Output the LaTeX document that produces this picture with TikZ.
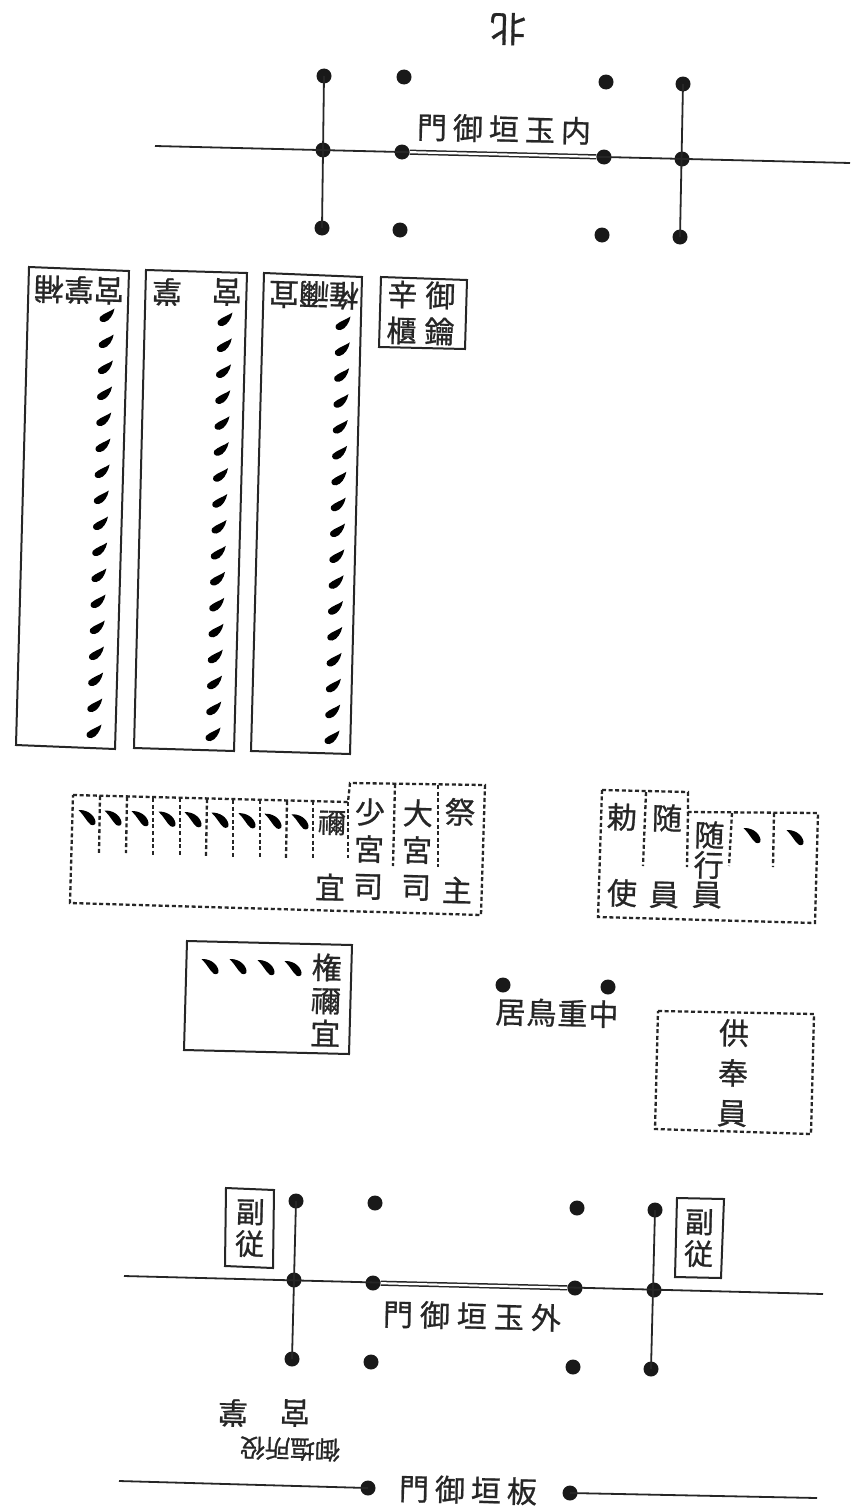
\documentclass[tikz,border=0pt]{standalone}
\usepackage{fontspec}
\newfontfamily\cjk[FakeBold=0.8]{Noto Sans CJK JP}
\tikzset{
  px/.style={x=1pt,y=-1pt},
  post/.style={circle,fill=black!90,inner sep=0pt,minimum size=15pt},
  rule/.style={draw=black!85,line width=1.8pt},
  gatepair/.style={draw=black!85,line width=1.5pt,double=white,double distance=2.2pt},
  framebox/.style={draw=black!85,line width=2pt,line join=miter},
  dashbox/.style={draw=black!85,line width=2.3pt,dash pattern=on 4pt off 2.6pt},
  lab/.style={inner sep=0pt,align=center,rotate=-1.4,font=\cjk\fontsize{30}{37}\selectfont,text=black!85},
  labflip/.style={inner sep=0pt,rotate=178.6,font=\cjk\fontsize{30}{30}\selectfont,text=black!85},
  tickA/.pic={\fill[black] (7.5,-7.5) .. controls (3.5,-4.5) and (-3,-3) .. (-7,1) .. controls (-8.5,4.5) and (-6,6.5) .. (-2.5,6) .. controls (2.5,5) and (6.5,-1.5) .. (7.5,-7.5);},
  tickB/.pic={\fill[black] (-8.5,-7) .. controls (-1,-7.5) and (7,-3) .. (8.5,4.5) .. controls (9,8) and (6,9) .. (3.5,7.5) .. controls (0,5) and (-3,-2) .. (-8.5,-7);}
}
\begin{document}
\begin{tikzpicture}[px]
\useasboundingbox[fill=white] (0,0) rectangle (854,1512);

% north mark
\node[labflip,font=\cjk\fontsize{36}{36}\selectfont] (north) at (508,29) {北};

% inner gate
\foreach \n/\x/\y in {ia/324/76,ib/404/77,ic/606/82,id/683/84,ie/323/150,if/402/152,ig/604/157,ih/682/159,ii/322/228,ij/400/230,ik/602/235,il/680/237}
  \node[post] (\n) at (\x,\y) {};
\coordinate (il0) at (155,146);
\coordinate (il1) at (850,163);
\draw[rule] (il0) -- (il1);
\draw[rule] (ia.center) -- (ii.center);
\draw[rule] (id.center) -- (il.center);
\draw[gatepair] (if) -- (ig);
\node[lab] (innergate) at (504,129) {門\hspace{6pt}御\hspace{6pt}垣\hspace{6pt}玉\hspace{6pt}内};

% long boxes
\draw[framebox] (29,267) -- (129,271) -- (115,749) -- (16,745) -- cycle;
\draw[framebox] (146,270) -- (247,273) -- (234,751) -- (134,748) -- cycle;
\draw[framebox] (264,273) -- (362,277) -- (350,754) -- (251,751) -- cycle;
\draw[framebox] (381,277) -- (467,280) -- (465,349) -- (379,347) -- cycle;
\node[labflip] (t1) at (79,290) {宮掌補};
\node[labflip] (t2a) at (227,292) {宮};
\node[labflip] (t2b) at (167,292) {掌};
\node[labflip] (t3) at (314,295) {権禰宜};
\node[lab,font=\cjk\fontsize{30}{36}\selectfont] (t4) at (421,313) {辛\hspace{8pt}御\\櫃\hspace{8pt}鑰};
\foreach \i in {0,...,16} {
  \pic at ({107-13*\i/16},{316+416*\i/16}) {tickA};
  \pic at ({225-12*\i/16},{320+415*\i/16}) {tickA};
  \pic at ({343-11*\i/16},{324+414*\i/16}) {tickA};
}

% dashed group left
\draw[dashbox] (73,795) -- (348,802) -- (350,783) -- (485,785) -- (481,915) -- (70,903) -- cycle;
\foreach \xa/\ya/\xb/\yb in {100/796/99/853,127/797/126/853,153/798/153/855,180/798/180/856,207/799/206/856,233/800/233/857,260/800/260/857,287/801/286/858,313/801/313/858,348/802/348/858,395/784/393/866,438/785/438/867}
  \draw[dashbox] (\xa,\ya) -- (\xb,\yb);
\foreach \x in {87,113,140,167,193,220,247,273,300}
  \pic at (\x,{817+(\x-87)*0.02}) {tickB};
\node[lab,font=\cjk\fontsize{28}{28}\selectfont] (ne) at (332,823) {禰};
\node[lab] (gi) at (330,887) {宜};
\node[lab] (sh) at (369,849) {少\\宮\\司};
\node[lab] (dai) at (417,850) {大\\宮\\司};
\node[lab] (sa) at (460,812) {祭};
\node[lab] (nu) at (457,890) {主};

% dashed group right
\draw[dashbox] (602,790) -- (688,792) -- (688,812) -- (818,813) -- (815,923) -- (598,917) -- cycle;
\foreach \xa/\ya/\xb/\yb in {646/792/643/866,688/812/687/867,732/813/729/866,774/813/773/867}
  \draw[dashbox] (\xa,\ya) -- (\xb,\yb);
\pic at (752,835) {tickB};
\pic at (795,837) {tickB};
\node[lab] (cho) at (622,817) {勅};
\node[lab] (zu) at (667,818) {随};
\node[lab,font=\cjk\fontsize{30}{30}\selectfont] (zg) at (709,850) {随\\行};
\node[lab] (shi) at (622,893) {使};
\node[lab] (in1) at (664,895) {員};
\node[lab] (in2) at (707,895) {員};

% box gon-negi
\draw[framebox] (187,941) -- (352,945) -- (349,1054) -- (184,1050) -- cycle;
\foreach \x/\y in {210/966,238/966,266/967,293/968}
  \pic at (\x,\y) {tickB};
\node[lab,font=\cjk\fontsize{30}{33}\selectfont] (gn) at (326,1000) {権\\禰\\宜};

% chu-ju torii
\node[post] (toa) at (503,985) {};
\node[post] (tob) at (608,987) {};
\node[lab] (torii) at (557,1013) {居\hspace{1pt}鳥\hspace{1pt}重\hspace{1pt}中};

% hobo-in
\draw[dashbox] (658,1011) -- (814,1014) -- (811,1134) -- (655,1129) -- cycle;
\node[lab,font=\cjk\fontsize{30}{40}\selectfont] (hou) at (733,1073) {供\\奉\\員};

% outer gate
\foreach \n/\x/\y in {oa/296/1201,ob/375/1203,oc/577/1208,od/655/1210,oe/294/1280,of/373/1283,og/575/1288,oh/654/1290,oi/292/1359,oj/371/1362,ok/573/1367,ol/651/1369}
  \node[post] (\n) at (\x,\y) {};
\coordinate (ol0) at (124,1276);
\coordinate (ol1) at (823,1294);
\draw[rule] (ol0) -- (ol1);
\draw[rule] (oa.center) -- (oi.center);
\draw[rule] (od.center) -- (ol.center);
\draw[gatepair] (of) -- (og);
\node[lab] (outergate) at (472,1316) {門\hspace{7pt}御\hspace{7pt}垣\hspace{7pt}玉\hspace{7pt}外};
\draw[framebox] (226,1188) -- (274,1190) -- (273,1268) -- (225,1266) -- cycle;
\draw[framebox] (677,1198) -- (724,1199) -- (721,1278) -- (675,1277) -- cycle;
\node[lab,font=\cjk\fontsize{29}{32}\selectfont] (fj1) at (250,1228) {副\\従};
\node[lab,font=\cjk\fontsize{29}{32}\selectfont] (fj2) at (699,1238) {副\\従};

% below outer gate
\node[labflip] (ga) at (295,1413) {宮};
\node[labflip] (gb) at (233,1413) {掌};
\node[labflip,font=\cjk\fontsize{25}{25}\selectfont] (gc) at (290,1449) {御塩所役};

% board fence gate
\node[post] (ba) at (368,1488) {};
\node[post] (bb) at (570,1493) {};
\coordinate (b0) at (119,1481);
\coordinate (b1) at (817,1498);
\draw[rule] (b0) -- (ba.center);
\draw[rule] (bb.center) -- (b1);
\node[lab] (bgate) at (468,1490) {門\hspace{6pt}御\hspace{6pt}垣\hspace{6pt}板};
\end{tikzpicture}
\end{document}
